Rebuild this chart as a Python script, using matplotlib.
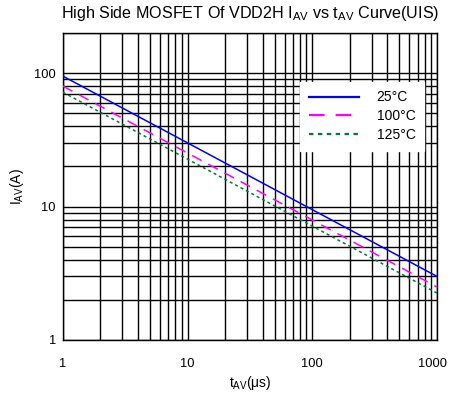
import numpy as np
import matplotlib
matplotlib.use("Agg")
import matplotlib.pyplot as plt
from matplotlib.transforms import ScaledTranslation
from matplotlib.ticker import LogLocator, FixedLocator, FixedFormatter, NullFormatter

plt.rcParams['font.family'] = ['Liberation Sans', 'DejaVu Sans']
plt.rcParams['mathtext.fontset'] = 'custom'
plt.rcParams['mathtext.rm'] = 'Liberation Sans'
plt.rcParams['mathtext.it'] = 'Liberation Sans'

# data (straight lines on log-log axes)
t_av = [1, 1000]
i_25c = [95, 3.0]
i_100c = [80, 2.5]
i_125c = [72, 2.25]
labels = ['25°C', '100°C', '125°C']

x_ticks = [1, 10, 100, 1000]
y_ticks = [1, 10, 100]

fig = plt.figure(figsize=(4.49, 4.0), dpi=100)
ax = fig.add_axes([0.140, 0.150, 0.833, 0.7675])

ax.plot(t_av, i_25c, color='#0000FF', linewidth=1.1, label=labels[0], zorder=5)
ax.plot(t_av, i_100c, color='#FF00FF', linewidth=1.1, linestyle=(0, (7, 5)), label=labels[1], zorder=5)
ax.plot(t_av, i_125c, color='#007A3D', linewidth=1.1, linestyle=(0, (2, 2)), label=labels[2], zorder=5)

ax.set_xscale('log')
ax.set_yscale('log')
ax.set_xlim(1, 1000)
ax.set_ylim(1, 200)

ax.xaxis.set_major_locator(FixedLocator(x_ticks))
ax.xaxis.set_major_formatter(FixedFormatter([str(v) for v in x_ticks]))
ax.yaxis.set_major_locator(FixedLocator(y_ticks))
ax.yaxis.set_major_formatter(FixedFormatter([str(v) for v in y_ticks]))
ax.xaxis.set_minor_locator(LogLocator(base=10, subs=np.arange(2, 10)))
ax.yaxis.set_minor_locator(LogLocator(base=10, subs=np.arange(2, 10)))
ax.xaxis.set_minor_formatter(NullFormatter())
ax.yaxis.set_minor_formatter(NullFormatter())

ax.grid(True, which='both', color='black', linewidth=1.0)
ax.tick_params(which='both', length=0, labelsize=9.3)
ax.tick_params(axis='x', pad=13)
ax.tick_params(axis='y', pad=5)

for s in ax.spines.values():
    s.set_color('black')
    s.set_linewidth(1.0)

ax.set_title('High Side MOSFET Of VDD2H I$_\\mathregular{AV}$ vs t$_\\mathregular{AV}$ Curve(UIS)',
             fontsize=11.6, pad=11)
ax.set_xlabel('t$_\\mathregular{AV}$(μs)', fontsize=10, labelpad=3)
ax.set_ylabel('I$_\\mathregular{AV}$(A)', fontsize=10, labelpad=6)

leg = ax.legend(loc='upper right', bbox_to_anchor=(0.965, 0.84), fontsize=10,
                frameon=True, fancybox=False, handlelength=3.6, handletextpad=1.3,
                borderpad=0.6, labelspacing=0.35, borderaxespad=0)
leg.get_frame().set_edgecolor('white')
leg.get_frame().set_facecolor('white')
leg.get_frame().set_alpha(1.0)
leg.set_zorder(10)
for line in leg.get_lines():
    line.set_linewidth(1.6)

# keep the last x tick label inside the canvas, as in the reference
last = ax.get_xticklabels()[-1]
last.set_transform(last.get_transform() + ScaledTranslation(-0.04, 0, fig.dpi_scale_trans))

fig.savefig('out.png', dpi=100)
